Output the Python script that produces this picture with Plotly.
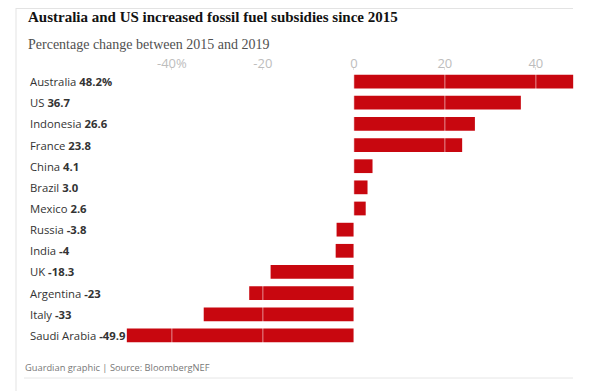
import plotly.graph_objects as go

countries = ["Australia", "US", "Indonesia", "France", "China", "Brazil", "Mexico",
             "Russia", "India", "UK", "Argentina", "Italy", "Saudi Arabia"]
changes = [48.2, 36.7, 26.6, 23.8, 4.1, 3.0, 2.6, -3.8, -4, -18.3, -23, -33, -49.9]
value_labels = ["48.2%", "36.7", "26.6", "23.8", "4.1", "3.0", "2.6",
                "-3.8", "-4", "-18.3", "-23", "-33", "-49.9"]
tick_vals = [-40, -20, 0, 20, 40]
tick_text = ["-40%", "-20", "0", "20", "40"]

title = "Australia and US increased fossil fuel subsidies since 2015"
subtitle = "Percentage change between 2015 and 2019"
source = "Guardian graphic | Source: BloombergNEF"

# page has an 8px body margin; work in screen pixels and shift
OFF = 8
W, H = 602 - OFF, 391 - OFF
RED = "#c8070f"
SANS = "Open Sans, Noto Sans, sans-serif"
SERIF = "Liberation Serif, DejaVu Serif, serif"


def px(x):
    return (x - OFF) / W


def py(y):
    return 1 - (y - OFF) / H


fig = go.Figure()
fig.add_trace(go.Bar(
    x=changes, y=countries, orientation="h",
    marker=dict(color=RED, line=dict(width=0)),
    hoverinfo="x+y", showlegend=False,
))

x_dom = [px(120), px(580)]
y_dom = [py(346), py(71)]

fig.update_layout(
    width=W, height=H,
    margin=dict(l=0, r=0, t=0, b=0),
    paper_bgcolor="white", plot_bgcolor="white",
    bargap=0.35,
    xaxis=dict(
        domain=x_dom, range=[-51.4, 49.7], side="top",
        tickvals=tick_vals, ticktext=tick_text,
        tickfont=dict(family=SANS, size=13, color="#bdbdbd"),
        showgrid=False, zeroline=False, showline=False,
        ticks="outside", ticklen=3, tickcolor="#e3e3e3", tickwidth=1,
        ticklabelstandoff=-6,
        fixedrange=True,
    ),
    yaxis=dict(
        domain=y_dom, categoryorder="array", categoryarray=countries[::-1],
        showticklabels=False, showgrid=False, zeroline=False, showline=False,
        fixedrange=True,
    ),
)

# gridlines drawn over the bars
for tv in tick_vals:
    fig.add_shape(type="line", xref="x", yref="paper", x0=tv, x1=tv,
                  y0=y_dom[0], y1=y_dom[1], layer="above",
                  line=dict(color="rgba(255,255,255,0.55)", width=1))

# frame lines
fig.add_shape(type="line", xref="paper", yref="paper", x0=px(16), x1=px(16),
              y0=0, y1=1, line=dict(color="#e3e3e3", width=1))
fig.add_shape(type="line", xref="paper", yref="paper", x0=px(16), x1=px(573),
              y0=py(8.5), y1=py(8.5), line=dict(color="#e3e3e3", width=1))
fig.add_shape(type="line", xref="paper", yref="paper", x0=px(24), x1=px(573),
              y0=py(378), y1=py(378), line=dict(color="#e6e6e6", width=1))

# category labels
for c, v in zip(countries, value_labels):
    fig.add_annotation(
        xref="paper", yref="y", x=px(28), y=c, xanchor="left", yanchor="middle",
        text=f"{c} <b>{v}</b>", showarrow=False,
        font=dict(family=SANS, size=11.3, color="#333333"),
    )

fig.add_annotation(xref="paper", yref="paper", x=px(26), y=py(17.5),
                   xanchor="left", yanchor="middle", showarrow=False,
                   text=f"<b>{title}</b>",
                   font=dict(family=SERIF, size=15, color="#121212"))
fig.add_annotation(xref="paper", yref="paper", x=px(26), y=py(44.5),
                   xanchor="left", yanchor="middle", showarrow=False,
                   text=subtitle,
                   font=dict(family=SERIF, size=14, color="#505050"))
fig.add_annotation(xref="paper", yref="paper", x=px(23), y=py(367),
                   xanchor="left", yanchor="middle", showarrow=False,
                   text=source,
                   font=dict(family=SANS, size=9.3, color="#777777"))

fig.write_html("out.html")
